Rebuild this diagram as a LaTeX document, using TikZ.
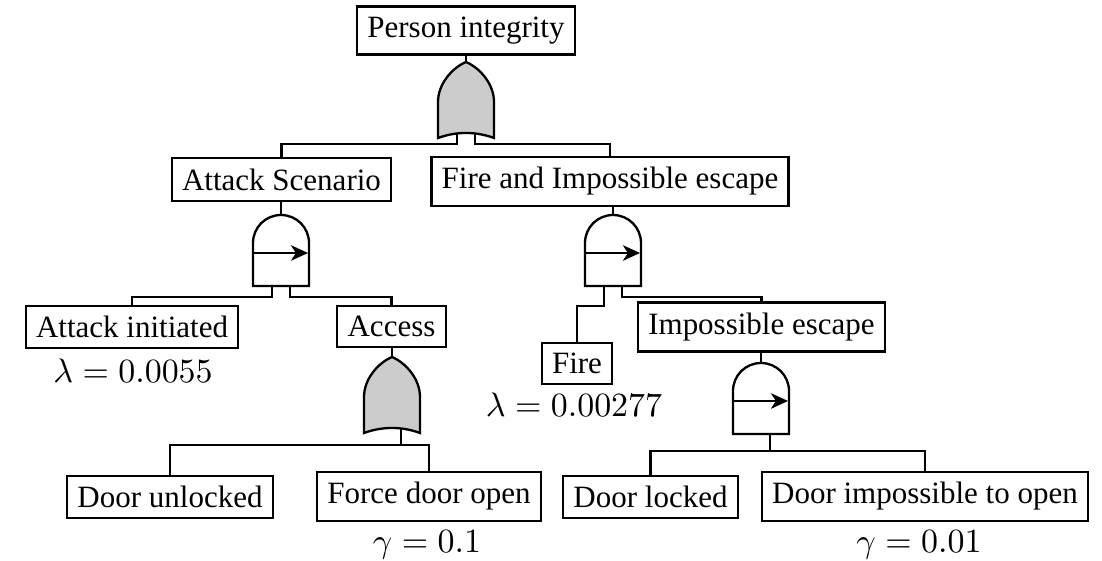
\documentclass[tikz,border=0pt]{standalone}
\usepackage[no-math]{fontspec}
\setmainfont{Liberation Serif}
\usetikzlibrary{arrows.meta}

\tikzset{
  event/.style={draw, line width=0.75pt, fill=white, inner sep=3.33pt,
    font=\fontsize{10}{12}\selectfont},
  rate/.style={inner sep=0pt, anchor=base, font=\fontsize{11.3}{13.5}\selectfont},
  wire/.style={line width=0.75pt},
  % OR gate: origin at the output tip, inputs on the concave base
  pics/orgate/.style={code={
    \draw[line width=0.75pt, fill=gray!40]
      (0,0) .. controls (-14,6) and (-28,22) .. (-28,40) -- (-28,76)
      .. controls (-10,69.3) and (10,69.3) .. (28,76) -- (28,40)
      .. controls (28,22) and (14,6) .. (0,0) -- cycle;
    \coordinate (-out) at (0,0);
    \coordinate (-in1) at (-9,71.5);
    \coordinate (-in2) at (9,71.5);
  }},
  % priority AND gate: origin at the top of the dome
  pics/pandgate/.style={code={
    \draw[line width=0.75pt, fill=white]
      (-28,71) -- (-28,28) .. controls (-28,12.5) and (-15.5,0) .. (0,0)
      .. controls (15.5,0) and (28,12.5) .. (28,28) -- (28,71) -- cycle;
    \draw[line width=0.75pt, -{Stealth[length=5.5pt,width=5pt,inset=1.6pt]}]
      (-28,38) -- (27,38);
    \coordinate (-out) at (0,0);
    \coordinate (-in1) at (-9,71);
    \coordinate (-in2) at (9,71);
  }},
}

\begin{document}
\begin{tikzpicture}[x=0.3226pt, y=-0.3226pt]
  \useasboundingbox (0,0) rectangle (1102,561);

  % events
  \node[event] (person)   at (466,30.5)  {Person integrity};
  \node[event] (attack)   at (281.5,179.5) {Attack Scenario};
  \node[event] (fireesc)  at (610,181.5) {Fire and Impossible escape};
  \node[event] (attinit)  at (132,327)   {Attack initiated};
  \node[event] (access)   at (391.5,326.5) {Access};
  \node[event] (fire)     at (577,363.5) {Fire};
  \node[event] (impesc)   at (761.5,327) {Impossible escape};
  \node[event] (doorunl)  at (170,497)   {Door unlocked};
  \node[event] (force)    at (429,496.5) {Force door open};
  \node[event] (doorlock) at (650.5,497) {Door locked};
  \node[event] (doorimp)  at (925,496.5) {Door impossible to open};

  % rates
  \node[rate] (lam1) at (133,383) {$\lambda = 0.0055$};
  \node[rate] (lam2) at (574,417) {$\lambda = 0.00277$};
  \node[rate] (gam1) at (427,553) {$\gamma = 0.1$};
  \node[rate] (gam2) at (919,553) {$\gamma = 0.01$};

  % gates
  \pic (gor1)  at (466,62)  {orgate};
  \pic (pand1) at (281,215) {pandgate};
  \pic (pand2) at (613,215) {pandgate};
  \pic (gor2)  at (392,357) {orgate};
  \pic (pand3) at (761,363) {pandgate};

  % connectors
  \draw[wire] (gor1-out) -- (gor1-out |- person.south);
  \draw[wire] (gor1-in1) -- (gor1-in1 |- 0,144) -| (attack.north);
  \draw[wire] (gor1-in2) -- (gor1-in2 |- 0,144) -| (fireesc.north);

  \draw[wire] (pand1-out) -- (pand1-out |- attack.south);
  \draw[wire] (pand1-in1) -- (pand1-in1 |- 0,297) -| (attinit.north);
  \draw[wire] (pand1-in2) -- (pand1-in2 |- 0,297) -| (access.north);

  \draw[wire] (gor2-out) -- (gor2-out |- access.south);
  \draw[wire] (gor2-in2) -- (gor2-in2 |- 0,445) -| (doorunl.north);
  \draw[wire] (gor2-in2 |- 0,445) -| (force.north);

  \draw[wire] (pand2-out) -- (pand2-out |- fireesc.south);
  \draw[wire] (pand2-in1) -- (pand2-in1 |- 0,306) -| (fire.north);
  \draw[wire] (pand2-in2) -- (pand2-in2 |- 0,297) -| (impesc.north);

  \draw[wire] (pand3-out) -- (pand3-out |- impesc.south);
  \draw[wire] (pand3-in2) -- (pand3-in2 |- 0,451) -| (doorlock.north);
  \draw[wire] (pand3-in2 |- 0,451) -| (doorimp.north);
\end{tikzpicture}
\end{document}
